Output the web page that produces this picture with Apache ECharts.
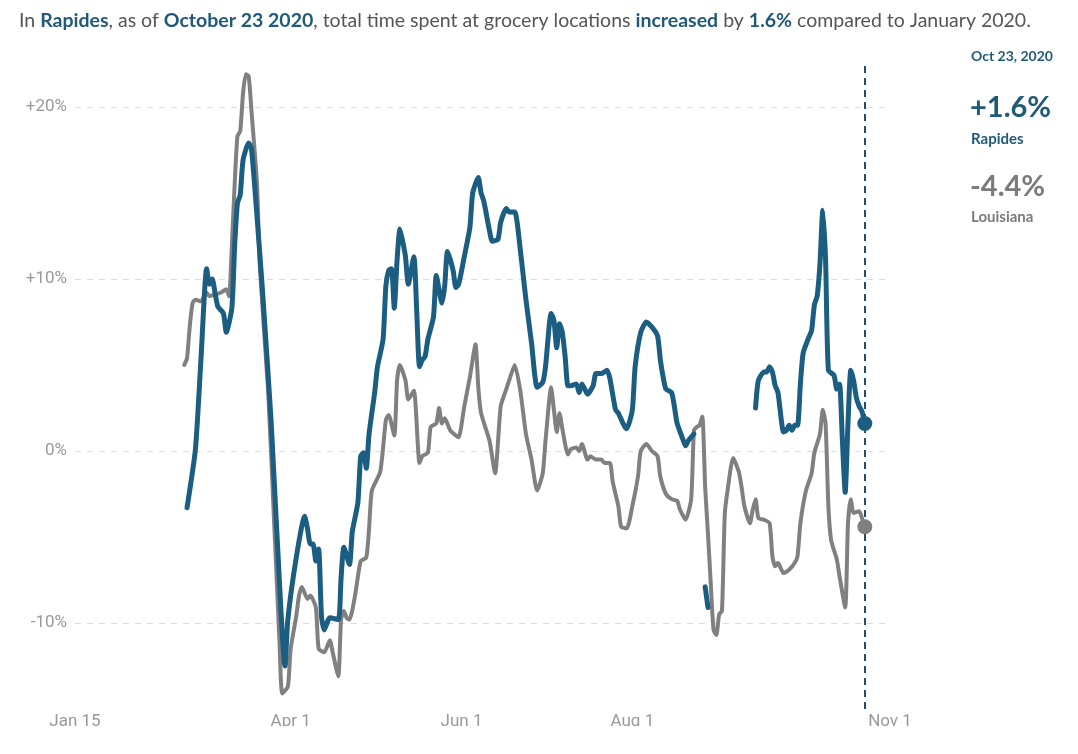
<!DOCTYPE html>
<html>
<head>
<meta charset="utf-8">
<script src="https://cdn.jsdelivr.net/npm/echarts@6/dist/echarts.min.js"></script>
<style>
  html, body { margin: 0; padding: 0; background: #fff; }
  #main { width: 1078px; height: 754px; }
</style>
</head>
<body>
<div id="main"></div>
<script>
// tick labels on the x axis
var tickDates = ['2020-01-15', '2020-04-01', '2020-06-01', '2020-08-01', '2020-11-01'];
var tickLabels = ['Jan 15', 'Apr 1', 'Jun 1', 'Aug 1', 'Nov 1'];
var yTicks = [-10, 0, 10, 20];

// Rapides (null = no data)
var rapidesDates = [
  '02-24','02-27','02-29','03-02','03-03','03-04','03-05','03-06','03-08','03-09',
  '03-11','03-12','03-13','03-14','03-15','03-17','03-18','03-20','03-22','03-25',
  '03-27','03-30','03-31','04-03','04-06','04-07','04-08','04-09','04-10','04-11',
  '04-12','04-13','04-15','04-18','04-19','04-20','04-22','04-23','04-25','04-26',
  '04-27','04-28','04-29','05-01','05-02','05-04','05-05','05-06','05-07','05-08',
  '05-09','05-10','05-11','05-12','05-13','05-15','05-16','05-17','05-18','05-19',
  '05-20','05-22','05-23','05-25','05-26','05-27','05-29','05-30','05-31','06-02',
  '06-04','06-05','06-07','06-08','06-09','06-11','06-12','06-14','06-15','06-17',
  '06-18','06-20','06-22','06-24','06-26','06-28','06-30','07-01','07-03','07-04',
  '07-05','07-06','07-07','07-08','07-09','07-10','07-12','07-13','07-14','07-15',
  '07-16','07-18','07-19','07-21','07-23','07-24','07-26','07-27','07-29','07-30',
  '08-01','08-02','08-04','08-06','08-08','08-10','08-11','08-12','08-13','08-15',
  '08-16','08-17','08-19','08-20','08-21','08-23','08-24','08-27','08-28','08-29',
  '09-14','09-15','09-17','09-18','09-19','09-20','09-21','09-22','09-24','09-25',
  '09-26','09-27','09-28','09-29','09-30','10-01','10-03','10-04','10-05','10-06',
  '10-07','10-08','10-09','10-10','10-12','10-13','10-14','10-15','10-16','10-17',
  '10-18','10-19','10-20','10-21','10-22','10-23'
];
var rapidesValues = [
  -3.3, 0.1, 5.4, 10.6, 9.7, 10.0, 9.2, 8.4, 8.0, 6.9,
  8.3, 11.9, 14.4, 14.9, 16.9, 17.9, 17.6, 13.6, 9.2, 1.8,
  -4.5, -12.5, -9.8, -6.2, -3.8, -4.5, -5.4, -5.4, -6.4, -5.7,
  -9.6, -10.4, -9.7, -9.8, -7.4, -5.6, -6.6, -4.7, -3.0, -0.3,
  -0.1, -1.0, 1.0, 3.4, 4.9, 6.5, 9.6, 10.5, 10.6, 8.3,
  11.1, 12.9, 12.2, 11.3, 9.7, 11.3, 8.2, 4.9, 5.3, 5.5,
  6.5, 7.8, 10.2, 8.6, 9.6, 11.6, 10.5, 9.5, 9.7, 11.3,
  13.0, 15.0, 15.9, 15.0, 14.5, 12.8, 12.2, 12.3, 13.3, 14.1,
  13.9, 13.9, 11.7, 8.8, 6.3, 3.7, 4.0, 4.9, 8.0, 7.6,
  6.0, 7.4, 6.9, 5.5, 3.8, 3.8, 3.9, 3.4, 3.9, 3.6,
  3.3, 3.8, 4.5, 4.5, 4.7, 4.2, 2.4, 2.2, 1.5, 1.3,
  2.4, 4.9, 6.9, 7.5, 7.2, 6.7, 5.3, 4.3, 3.6, 3.4,
  2.6, 1.6, 0.7, 0.3, 0.6, 1.0, null, -7.9, -9.1, null,
  2.5, 4.1, 4.6, 4.6, 4.9, 4.6, 3.8, 3.4, 1.1, 1.2,
  1.5, 1.2, 1.5, 1.5, 3.9, 5.7, 6.6, 7.0, 8.5, 9.0,
  10.9, 14.0, 11.1, 4.7, 4.4, 3.6, 3.9, 0.6, -2.4, 1.6,
  4.7, 4.1, 3.1, 2.6, 2.3, 1.6
];

// Louisiana
var louisianaDates = [
  '02-23','02-24','02-25','02-26','02-27','02-29','03-02','03-03','03-05','03-07',
  '03-09','03-10','03-11','03-12','03-13','03-14','03-15','03-16','03-17','03-18',
  '03-20','03-21','03-24','03-26','03-28','03-29','03-31','04-01','04-03','04-04',
  '04-05','04-07','04-08','04-10','04-11','04-13','04-15','04-16','04-18','04-19',
  '04-20','04-21','04-22','04-24','04-26','04-28','04-29','04-30','05-03','05-05',
  '05-06','05-08','05-09','05-10','05-12','05-13','05-15','05-17','05-18','05-20',
  '05-21','05-23','05-24','05-25','05-26','05-28','05-30','05-31','06-02','06-04',
  '06-06','06-07','06-08','06-11','06-13','06-15','06-17','06-18','06-20','06-22',
  '06-24','06-26','06-28','06-30','07-01','07-03','07-04','07-05','07-06','07-07',
  '07-09','07-10','07-12','07-13','07-14','07-16','07-17','07-19','07-21','07-22',
  '07-24','07-25','07-27','07-28','07-30','08-01','08-03','08-04','08-06','08-08',
  '08-10','08-11','08-13','08-15','08-17','08-18','08-20','08-22','08-23','08-24',
  '08-25','08-26','08-27','08-28','08-29','08-30','08-31','09-01','09-02','09-03',
  '09-04','09-06','09-08','09-09','09-10','09-12','09-13','09-14','09-15','09-17',
  '09-19','09-20','09-21','09-22','09-24','09-26','09-28','09-29','09-30','10-02',
  '10-04','10-05','10-07','10-08','10-09','10-10','10-11','10-13','10-14','10-16',
  '10-17','10-18','10-19','10-21','10-22','10-23'
];
var louisianaValues = [
  5.0, 5.4, 7.3, 8.6, 8.8, 8.7, 9.2, 9.0, 9.1, 9.2,
  9.4, 9.0, 11.9, 15.5, 18.3, 18.6, 20.8, 21.9, 21.8, 19.8,
  15.5, 10.7, 3.4, -3.8, -11.0, -14.1, -13.7, -11.5, -9.6, -8.4,
  -7.9, -8.6, -8.4, -9.1, -11.5, -11.7, -11.0, -11.7, -13.1, -9.8,
  -9.3, -9.7, -9.8, -8.4, -6.4, -6.2, -4.5, -2.3, -1.2, 1.8,
  2.1, 0.9, 4.1, 5.0, 4.1, 3.0, 3.5, -0.7, -0.3, -0.1,
  1.4, 1.6, 2.5, 1.6, 1.9, 1.2, 0.9, 0.8, 2.6, 4.3,
  6.2, 3.7, 2.2, 0.6, -1.3, 2.6, 3.6, 4.1, 5.0, 3.5,
  1.0, -0.5, -2.3, -1.3, 0.6, 3.7, 2.4, 1.1, 2.2, 1.3,
  -0.2, 0.1, 0.2, 0.0, 0.4, -0.5, -0.3, -0.5, -0.5, -0.7,
  -0.7, -1.8, -3.2, -4.4, -4.5, -3.2, -1.5, 0.0, 0.4, 0.0,
  -0.3, -1.5, -2.5, -2.8, -2.9, -3.4, -4.0, -2.8, 1.2, 1.4,
  1.5, 2.0, -2.1, -4.8, -7.7, -10.4, -10.7, -9.5, -9.3, -3.7,
  -2.3, -0.4, -1.2, -2.1, -3.2, -4.2, -3.4, -2.8, -3.9, -4.0,
  -4.2, -6.1, -6.7, -6.5, -7.1, -6.9, -6.5, -6.1, -4.2, -2.3,
  -1.3, -0.1, 1.0, 2.4, 1.6, -3.2, -5.2, -6.3, -7.3, -9.1,
  -4.2, -2.8, -3.6, -3.5, -3.9, -4.4
];

var TEAL = '#1b5e82';
var GRAY = '#808080';
var TEXT_TEAL = '#1f5a79';

function toTime(d) {
  return echarts.time.parse(d).getTime();
}
function pairs(dates, values) {
  return dates.map(function (d, i) {
    return [toTime('2020-' + d), values[i] === null ? '-' : values[i]];
  });
}
function lastPoint(dates, values) {
  var i = dates.length - 1;
  return [[toTime('2020-' + dates[i]), values[i]]];
}
var tickTimes = tickDates.map(toTime);

var myChart = echarts.init(document.getElementById('main'));

var option = {
  animation: false,
  title: {
    left: 14,
    top: 6,
    text: '{n|In }{b|Rapides}{n|, as of }{b|October 23 2020}{n|, total time spent at grocery locations }{b|increased}{n| by }{b|1.6%}{n| compared to January 2020.}',
    textStyle: {
      fontWeight: 'normal',
      rich: {
        n: { fontFamily: 'Lato', fontSize: 19.5, fontWeight: 'normal', color: '#555' },
        b: { fontFamily: 'Lato', fontSize: 19.5, fontWeight: 'bold', color: TEXT_TEAL }
      }
    }
  },
  grid: { left: 75, right: 188, top: 64, bottom: 45 },
  xAxis: {
    type: 'value',
    min: tickTimes[0],
    max: tickTimes[tickTimes.length - 1],
    axisLine: { show: false },
    axisTick: { show: false, customValues: tickTimes },
    splitLine: { show: false },
    axisLabel: {
      customValues: tickTimes,
      margin: 4,
      fontFamily: 'Roboto',
      fontSize: 17,
      color: '#999',
      formatter: function (v) {
        var i = tickTimes.indexOf(v);
        return i >= 0 ? tickLabels[i] : '';
      }
    }
  },
  yAxis: {
    type: 'value',
    min: -15,
    max: 22.5,
    axisLine: { show: false },
    axisTick: { show: false, customValues: yTicks },
    splitLine: { show: true, lineStyle: { color: '#dcdcdc', type: [6, 6], width: 1 } },
    axisLabel: {
      customValues: yTicks,
      fontFamily: 'Roboto',
      fontSize: 17,
      color: '#999',
      margin: 8,
      formatter: function (v) { return v > 0 ? '+' + v + '%' : v + '%'; }
    }
  },
  graphic: [
    { type: 'text', left: 971, top: 49, style: { text: 'Oct 23, 2020', font: 'bold 14px Lato', fill: TEXT_TEAL } },
    { type: 'text', left: 970, top: 93, style: { text: '+1.6%', font: 'bold 29px Lato', fill: TEXT_TEAL } },
    { type: 'text', left: 971, top: 132, style: { text: 'Rapides', font: 'bold 15px Lato', fill: TEXT_TEAL } },
    { type: 'text', left: 970, top: 172, style: { text: '-4.4%', font: 'bold 29px Lato', fill: '#7b7b7b' } },
    { type: 'text', left: 971, top: 210, style: { text: 'Louisiana', font: 'bold 15px Lato', fill: '#7b7b7b' } },
    { type: 'rect', left: 0, top: 726, z: 100, shape: { width: 1078, height: 28 }, style: { fill: '#fff' } }
  ],
  series: [
    {
      name: 'Louisiana',
      type: 'line',
      data: pairs(louisianaDates, louisianaValues),
      showSymbol: false,
      smooth: 0.2,
      lineStyle: { color: GRAY, width: 4, cap: 'round', join: 'round' },
      itemStyle: { color: GRAY }
    },
    {
      name: 'Rapides',
      type: 'line',
      data: pairs(rapidesDates, rapidesValues),
      showSymbol: false,
      smooth: 0.2,
      connectNulls: false,
      lineStyle: { color: TEAL, width: 5, cap: 'round', join: 'round' },
      itemStyle: { color: TEAL },
      markLine: {
        silent: true,
        symbol: 'none',
        label: { show: false },
        lineStyle: { color: '#2a4a69', type: [7, 5], width: 2 },
        data: [{ xAxis: toTime('2020-10-23') }]
      }
    },
    {
      type: 'scatter',
      data: lastPoint(louisianaDates, louisianaValues),
      symbolSize: 15,
      itemStyle: { color: GRAY, opacity: 1 },
      z: 5
    },
    {
      type: 'scatter',
      data: lastPoint(rapidesDates, rapidesValues),
      symbolSize: 15,
      itemStyle: { color: TEAL, opacity: 1 },
      z: 5
    }
  ]
};

myChart.setOption(option);
</script>
</body>
</html>
